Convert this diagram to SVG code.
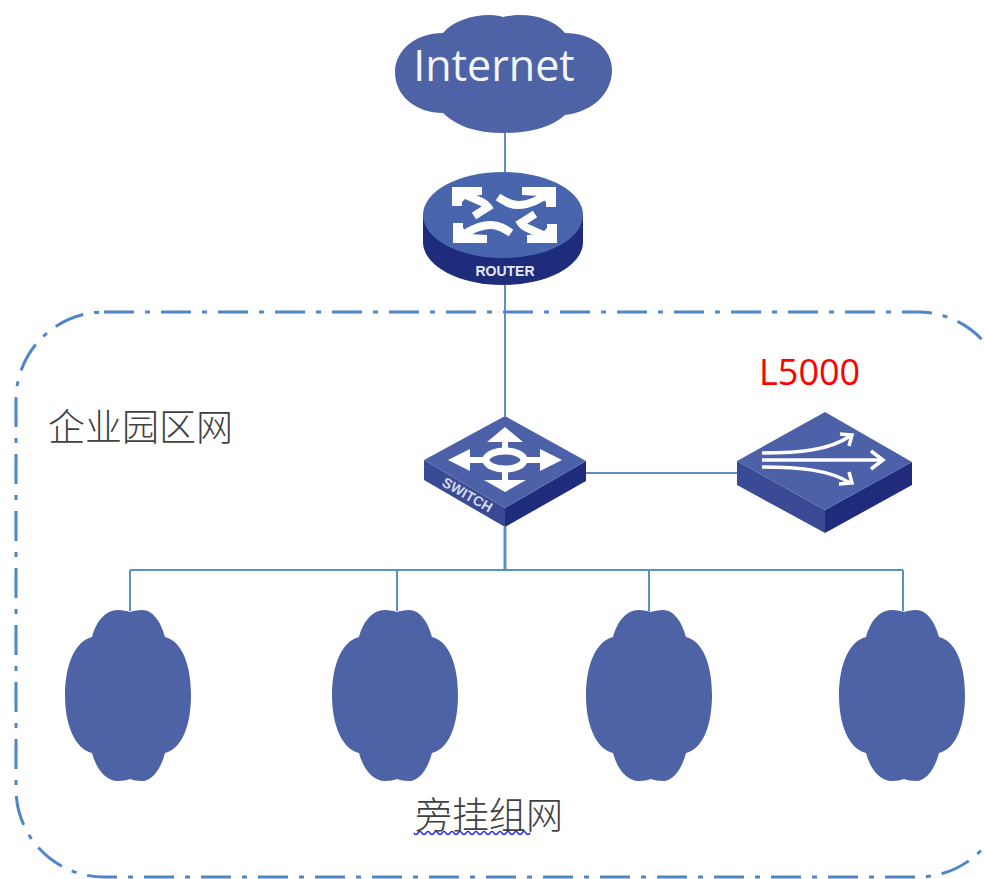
<svg xmlns="http://www.w3.org/2000/svg" width="984" height="879" viewBox="0 0 984 879">
<style>
.link{stroke:#5b8fc9;stroke-width:2;fill:none}
.cloud{fill:#4e63a6}
.face{fill:#4c61a7}
.left{fill:#3a4a95}
.right{fill:#1f2c7b}
.w{fill:#fff}
.ws{fill:none;stroke:#fff}
.zh{font-family:"Noto Sans CJK SC","Liberation Sans",sans-serif;font-size:37px;font-weight:300;fill:#404040}
</style>
<defs>
<path id="small" d="M92 637C96 622 105 610 118 610C123 610 127 611 130 612C133 611 137 610 142 610C153 610 161 622 165 637C182 641 191 665 191 695C191 725 182 749 165 753C161 768 153 781 142 781C137 781 133 780 130 779C127 780 123 781 118 781C105 781 96 768 92 753C75 749 65 725 65 695C65 665 75 641 92 637Z"/>
<g id="rarrows">
<polygon class="w" points="452,187 482,187 482,195 468,196 462,202 462,206 452,206"/>
<path class="ws" stroke-width="8" d="M457 191L482 202Q486 204 488 207L474 216"/>
<polygon class="w" points="556,187 522,187 522,195 540,196 546,202 546,207 556,207"/>
<path class="ws" stroke-width="8" d="M551 192C540 199 530 205 518 205C510 205 504 201 498 197"/>
</g>
</defs>
<g id="connectors">
<path class="link" d="M505 130V172M505 285V416M586 473H737M130 570H903M130 570V611M397 570V611M649 570V611M903 570V611"/>
<path class="link" style="stroke-width:3" d="M505 527V570"/>
</g>
<g id="zone">
<rect x="16" y="312" width="990" height="565" rx="88" ry="88" fill="none" stroke="#4f86c6" stroke-width="3" stroke-dasharray="30 11 5 11"/>
<text class="zh" x="48" y="441">企业园区网</text>
</g>
<g id="internet">
<path class="cloud" d="M443 33C452 22 470 15 490 15C496 15 500 16 503 17C508 16 514 15 520 15C540 15 556 22 565 33C592 33 612 48 612 70C612 94 592 112 565 115C552 127 530 133 503 133C476 133 456 126 443 113C416 113 395 96 395 72C395 50 416 33 443 33Z"/>
<text x="494" y="81" text-anchor="middle" font-family="Open Sans,sans-serif" font-size="43" fill="#f4f6fb">Internet</text>
</g>
<g id="router">
<path class="right" d="M423 215V242A80 43 0 0 0 583 242V215Z"/>
<ellipse cx="503" cy="215" rx="80" ry="43" fill="#4865ae"/>
<use href="#rarrows"/>
<use href="#rarrows" transform="rotate(180 504.5 215)"/>
<text x="505" y="276" text-anchor="middle" font-family="Liberation Sans,sans-serif" font-weight="700" font-size="14" fill="#e4e8f2">ROUTER</text>
</g>
<g id="switch">
<polygon class="left" points="424,460 505,508 505,527 424,480"/>
<polygon class="right" points="586,461 505,508 505,527 586,481"/>
<polygon class="face" points="505,416 586,461 505,508 424,460"/>
<ellipse cx="505" cy="460" rx="19" ry="9" fill="none" stroke="#fff" stroke-width="7"/>
<path class="ws" stroke-width="6" d="M505 450V438M505 470V482M485 460H466M525 460H544"/>
<polygon class="w" points="505,427 523,442 487,442"/>
<polygon class="w" points="505,492 526,480 484,480"/>
<polygon class="w" points="448,460 470,449 470,471"/>
<polygon class="w" points="562,460 540,449 540,471"/>
<text transform="translate(465 499) rotate(30)" text-anchor="middle" font-family="Liberation Sans,sans-serif" font-weight="700" font-size="14" fill="#d5daea">SWITCH</text>
</g>
<g id="l5000">
<polygon class="left" points="737,461 825,510 825,533 737,485"/>
<polygon class="right" points="912,462 825,510 825,533 912,485"/>
<polygon class="face" points="825,412 912,462 825,510 737,461"/>
<path class="ws" stroke-width="3.5" d="M762 453C800 453 830 450 850 436M762 460H881M762 467C800 467 830 470 850 483"/>
<path class="ws" stroke-width="3.5" d="M840 434L852 435L849 446M871 451L883 460L871 469M839 484L852 483L849 472"/>
<text x="759" y="385" font-family="Open Sans,sans-serif" font-size="36" fill="#ff0000">L5000</text>
</g>
<g id="cloud-1"><use href="#small" class="cloud"/></g>
<g id="cloud-2"><use href="#small" class="cloud" x="267"/></g>
<g id="cloud-3"><use href="#small" class="cloud" x="521"/></g>
<g id="cloud-4"><use href="#small" class="cloud" x="774"/></g>
<g id="label">
<text class="zh" x="415" y="829">旁挂组网</text>
<path d="M414 833q2 3 4 0t4 0t4 0t4 0t4 0t4 0t4 0t4 0t4 0t4 0t4 0t4 0t4 0t4 0t4 0t4 0t4 0t4 0t4 0t4 0t4 0t4 0t4 0t4 0t4 0t4 0t4 0t4 0t4 0" fill="none" stroke="#2a2ae0" stroke-width="1.5"/>
</g>
</svg>
